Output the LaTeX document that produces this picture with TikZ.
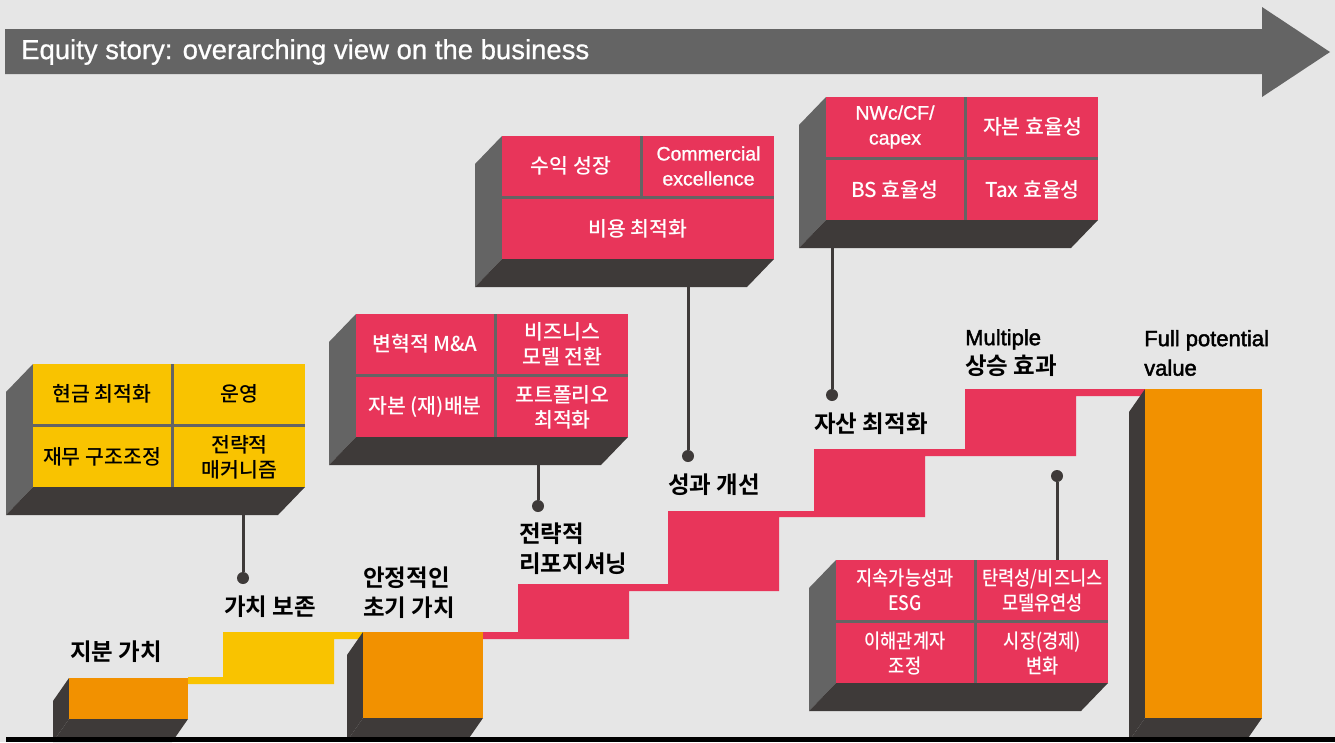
\documentclass[tikz,border=0pt]{standalone}
\usepackage{fontspec}
\setmainfont{Liberation Sans}
\newfontfamily\krfont{Noto Sans CJK KR Medium}[BoldFont={Noto Sans CJK KR Bold}]
\newfontfamily\krcond{Noto Sans CJK KR Medium}[FakeStretch=0.88]
\newfontfamily\titlefont{Liberation Sans}[FakeBold=0.8]
\newfontfamily\latfont{Liberation Sans}[FakeBold=2]
\newfontfamily\boxlat{Liberation Sans}[FakeBold=1]
\usepackage{tikz}
\usetikzlibrary{positioning}
\definecolor{bgC}{HTML}{E6E6E6}
\definecolor{sideC}{HTML}{646464}
\definecolor{darkC}{HTML}{3E3A39}
\definecolor{yelC}{HTML}{F9C300}
\definecolor{oraC}{HTML}{F29100}
\definecolor{redC}{HTML}{E8355A}

% extruded slab: x y w h dx dy sidecolour
\newcommand{\slab}[7]{%
  \fill[#7] (#1,#2) -- (#1-#5,#2+#6) -- (#1-#5,#2+#4+#6) -- (#1,#2+#4) -- cycle;
  \fill[darkC] (#1,#2+#4) -- (#1+#3,#2+#4) -- (#1+#3-#5,#2+#4+#6) -- (#1-#5,#2+#4+#6) -- cycle;
}

\begin{document}
\begin{tikzpicture}[x=1pt,y=-1pt,
  cell/.style={anchor=north west, inner sep=0, outer sep=0, align=center,
    font=\krfont\fontsize{20.5}{25}\selectfont},
  cellY/.style={cell, fill=yelC, text=black},
  cellR/.style={cell, fill=redC, text=white},
  wideC/.style={minimum width=138, minimum height=60},
  narrowC/.style={minimum width=131, minimum height=60},
  fullC/.style={minimum width=272, minimum height=60},
  lbl/.style={anchor=west, inner sep=0, align=left,
    font=\krfont\bfseries\fontsize{23.5}{29.5}\selectfont},
  pin/.style={circle, fill=darkC, minimum size=12, inner sep=0},
  conn/.style={draw=darkC, line width=3}]
\def \dx {27}
\def \dy {28}
\def \sx {16}
\def \sy {23}
\fill[bgC] (0,0) rectangle (1335,742);
\useasboundingbox (0,0) rectangle (1335,742);

\fill[sideC] (5,29) -- (1262,29) -- (1262,7) -- (1330,52) -- (1262,97) -- (1262,74) -- (5,74) -- cycle;
\node[anchor=west, inner sep=0, text=white, font=\titlefont\fontsize{27.5}{32}\selectfont] (title) at (21,52)
  {Equity story: overarching view on the business};

% stairs
\slab{69}{678}{119}{41}{\sx}{\sy}{darkC}
\fill[oraC] (69,678) rectangle (188,719);
\fill[yelC] (188,677) -- (223,677) -- (223,632) -- (363,632) -- (363,639) -- (334,639) -- (334,684) -- (188,684) -- cycle;
\slab{363}{632}{120}{86}{\sx}{\sy}{darkC}
\fill[oraC] (363,632) rectangle (483,718);
\fill[redC] (483,632) -- (518,632) -- (518,584) -- (668,584) -- (668,511) -- (814,511) -- (814,449)
  -- (965,449) -- (965,389) -- (1145,389) -- (1145,396) -- (1076,396) -- (1076,456) -- (925,456)
  -- (925,517) -- (779,517) -- (779,591) -- (629,591) -- (629,639) -- (483,639) -- cycle;
\slab{1145}{389}{117}{329}{\sx}{\sy}{darkC}
\fill[oraC] (1145,389) rectangle (1262,718);
\fill[black] (6,737) rectangle (1335,742);

\node[lbl] (equity) at (70,652) {지분 가치};
\node[lbl] (keep) at (224,607) {가치 보존};
\node[lbl] (stable) at (363,592.5) {안정적인\\초기 가치};
\node[lbl] (repos) at (519,548.5) {전략적\\리포지셔닝};
\node[lbl] (perf) at (668,485) {성과 개선};
\node[lbl] (asset) at (814,424) {자산 최적화};
\node[lbl] (multi) at (965,353) {{\latfont\mdseries\fontsize{22}{29.5}\selectfont Multiple}\\상승 효과};
\node[lbl, font=\latfont\fontsize{22}{29.5}\selectfont] (full) at (1144,353) {Full potential\\value};

% box 1
\slab{33}{364}{272}{123}{\dx}{\dy}{sideC}
\fill[sideC] (33,364) rectangle ++(272,123);
\node[cellY, wideC] (cash) at (33,364) {현금 최적화};
\node[cellY, narrowC] (ops) at (174,364) {운영};
\node[cellY, wideC] (fin) at (33,427) {재무 구조조정};
\node[cellY, narrowC] (mech) at (174,427) {전략적\\매커니즘};
\coordinate (b1) at (243,515);
\node[pin] (p1) at (243,578) {};
\draw[conn] (b1) -- (p1);

% box 2
\slab{356}{314}{272}{123}{\dx}{\dy}{sideC}
\fill[sideC] (356,314) rectangle ++(272,123);
\node[cellR, wideC] (ma) at (356,314) {변혁적 M\&A};
\node[cellR, narrowC] (model) at (497,314) {비즈니스\\모델 전환};
\node[cellR, wideC] (alloc) at (356,377) {자본 (재)배분};
\node[cellR, narrowC] (port) at (497,377) {포트폴리오\\최적화};
\coordinate (b2) at (538,465);
\node[pin] (p2) at (538,506) {};
\draw[conn] (b2) -- (p2);

% box 3
\slab{502}{136}{272}{123}{\dx}{\dy}{sideC}
\fill[sideC] (502,136) rectangle ++(272,123);
\node[cellR, wideC] (rev) at (502,136) {수익 성장};
\node[cellR, narrowC, font=\boxlat\fontsize{19.5}{25}\selectfont] (comm) at (643,136) {Commercial\\excellence};
\node[cellR, fullC] (cost) at (502,199) {비용 최적화};
\coordinate (b3) at (688,287);
\node[pin] (p3) at (688,456) {};
\draw[conn] (b3) -- (p3);

% box 4
\slab{826}{97}{272}{123}{\dx}{\dy}{sideC}
\fill[sideC] (826,97) rectangle ++(272,123);
\node[cellR, wideC, font=\boxlat\fontsize{19.5}{25}\selectfont] (nwc) at (826,97) {NWc/CF/\\capex};
\node[cellR, narrowC] (capeff) at (967,97) {자본 효율성};
\node[cellR, wideC] (bs) at (826,160) {BS 효율성};
\node[cellR, narrowC] (tax) at (967,160) {Tax 효율성};
\coordinate (b4) at (832,248);
\node[pin] (p4) at (832,395) {};
\draw[conn] (b4) -- (p4);

% box 5
\slab{836}{560}{272}{123}{\dx}{\dy}{sideC}
\fill[sideC] (836,560) rectangle ++(272,123);
\node[cellR, wideC, font=\krcond\fontsize{20}{25}\selectfont] (esg) at (836,560) {지속가능성과\\ESG};
\node[cellR, narrowC, font=\krcond\fontsize{20}{25}\selectfont] (resil) at (977,560) {탄력성/비즈니스\\모델유연성};
\node[cellR, wideC, font=\krcond\fontsize{20}{25}\selectfont] (stake) at (836,623) {이해관계자\\조정};
\node[cellR, narrowC, font=\krcond\fontsize{20}{25}\selectfont] (market) at (977,623) {시장(경제)\\변화};
\coordinate (b5) at (1057,560);
\node[pin] (p5) at (1057,476) {};
\draw[conn] (b5) -- (p5);
\end{tikzpicture}
\end{document}
